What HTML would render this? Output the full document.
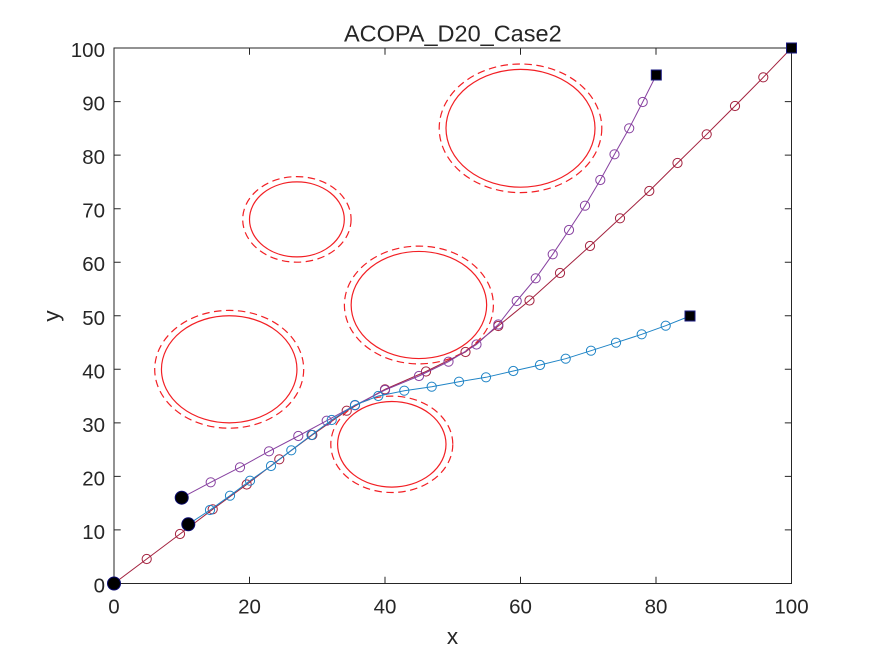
<!DOCTYPE html>
<html>
<head>
<meta charset="utf-8">
<style>
  html,body{margin:0;padding:0;background:#fff;}
  svg{display:block;}
  text{font-family:"Liberation Sans", Arial, sans-serif; fill:#262626;}
</style>
</head>
<body>
<svg width="875" height="656" viewBox="0 0 875 656" xmlns="http://www.w3.org/2000/svg">
  <rect x="0" y="0" width="875" height="656" fill="#ffffff"/>

  <!-- Obstacles -->
  <g fill="none" stroke="#f21f24" stroke-width="1.2">
    <ellipse cx="520.5" cy="128.3" rx="74.5" ry="58.9"/>
    <ellipse cx="296.9" cy="219.4" rx="47.4" ry="37.5"/>
    <ellipse cx="418.9" cy="305.0" rx="67.75" ry="53.55"/>
    <ellipse cx="229.2" cy="369.3" rx="67.75" ry="53.55"/>
    <ellipse cx="391.8" cy="444.3" rx="54.2" ry="42.8"/>
  </g>
  <g fill="none" stroke="#f21f24" stroke-width="1.2" stroke-dasharray="7.5 4.5">
    <ellipse cx="520.5" cy="128.3" rx="81.3" ry="64.3"/>
    <ellipse cx="296.9" cy="219.4" rx="54.2" ry="42.8"/>
    <ellipse cx="418.9" cy="305.0" rx="74.5" ry="58.9"/>
    <ellipse cx="229.2" cy="369.3" rx="74.5" ry="58.9"/>
    <ellipse cx="391.8" cy="444.3" rx="61" ry="48.2"/>
  </g>

  <!-- Axes box -->
  <rect x="114" y="48" width="677.5" height="535.5" fill="none" stroke="#262626" stroke-width="1"/>
  <!-- ticks -->
  <g stroke="#262626" stroke-width="1">
    <!-- x ticks bottom/top -->
    <path d="M249.5 583.5v-6.7M385 583.5v-6.7M520.5 583.5v-6.7M656 583.5v-6.7
             M249.5 48v6.7M385 48v6.7M520.5 48v6.7M656 48v6.7"/>
    <!-- y ticks left/right -->
    <path d="M114 529.9h6.7M114 476.4h6.7M114 422.9h6.7M114 369.3h6.7M114 315.8h6.7M114 262.2h6.7M114 208.7h6.7M114 155.1h6.7M114 101.6h6.7
             M791.5 529.9h-6.7M791.5 476.4h-6.7M791.5 422.9h-6.7M791.5 369.3h-6.7M791.5 315.8h-6.7M791.5 262.2h-6.7M791.5 208.7h-6.7M791.5 155.1h-6.7M791.5 101.6h-6.7"/>
  </g>

  <!-- Tick labels -->
  <g font-size="20.5" text-anchor="middle">
    <text x="114" y="613.3">0</text>
    <text x="249.5" y="613.3">20</text>
    <text x="385" y="613.3">40</text>
    <text x="520.5" y="613.3">60</text>
    <text x="656" y="613.3">80</text>
    <text x="791.5" y="613.3">100</text>
  </g>
  <g font-size="20.5" text-anchor="end">
    <text x="105" y="592.5">0</text>
    <text x="105" y="538.9">10</text>
    <text x="105" y="485.4">20</text>
    <text x="105" y="431.9">30</text>
    <text x="105" y="378.3">40</text>
    <text x="105" y="324.8">50</text>
    <text x="105" y="271.2">60</text>
    <text x="105" y="217.7">70</text>
    <text x="105" y="164.1">80</text>
    <text x="105" y="110.6">90</text>
    <text x="105" y="57">100</text>
  </g>

  <!-- Title and axis labels -->
  <text x="452.8" y="41.7" font-size="23.5" text-anchor="middle">ACOPA_D20_Case2</text>
  <text x="452.5" y="644" font-size="22.5" text-anchor="middle">x</text>
  <text transform="translate(59,316) rotate(-90)" font-size="22.5" text-anchor="middle">y</text>

  <!-- Path A (maroon) -->
  <polyline fill="none" stroke="#a3223f" stroke-width="1"
    points="114,583.5 146.7,559 180,534 212.7,509.3 246.7,484.5 279.3,459.3 312.3,435 346.7,410.7 385,389.3 426,371.5 465.5,352 498.3,326 529.5,300.5 560,273 590,246 620,218.3 649.3,191 677.5,163 706.7,134.3 735,106 763.3,77.3 791.5,48"/>
  <g fill="none" stroke="#a3223f" stroke-width="1">
    <circle cx="146.7" cy="559" r="4.6"/><circle cx="180" cy="534" r="4.6"/>
    <circle cx="212.7" cy="509.3" r="4.6"/><circle cx="246.7" cy="484.5" r="4.6"/>
    <circle cx="279.3" cy="459.3" r="4.6"/><circle cx="312.3" cy="435" r="4.6"/>
    <circle cx="346.7" cy="410.7" r="4.6"/><circle cx="385" cy="389.3" r="4.6"/>
    <circle cx="426" cy="371.5" r="4.6"/><circle cx="465.5" cy="352" r="4.6"/>
    <circle cx="498.3" cy="326" r="4.6"/><circle cx="529.5" cy="300.5" r="4.6"/>
    <circle cx="560" cy="273" r="4.6"/><circle cx="590" cy="246" r="4.6"/>
    <circle cx="620" cy="218.3" r="4.6"/><circle cx="649.3" cy="191" r="4.6"/>
    <circle cx="677.5" cy="163" r="4.6"/><circle cx="706.7" cy="134.3" r="4.6"/>
    <circle cx="735" cy="106" r="4.6"/><circle cx="763.3" cy="77.3" r="4.6"/>
  </g>

  <!-- Path B (purple) -->
  <polyline fill="none" stroke="#8741a0" stroke-width="1"
    points="181.7,497.7 210.7,482.3 240,467.3 269,451.3 298.3,436 326.7,420.7 355,405.3 385,390 419,376 448.5,361.7 476.5,344.5 498.3,324.5 516.7,301 535.7,278.3 552.7,254.3 569,230 585,205.7 600.3,180 614.5,154.3 629.2,128.3 642.7,102 656.3,75"/>
  <g fill="none" stroke="#8741a0" stroke-width="1">
    <circle cx="210.7" cy="482.3" r="4.6"/><circle cx="240" cy="467.3" r="4.6"/>
    <circle cx="269" cy="451.3" r="4.6"/><circle cx="298.3" cy="436" r="4.6"/>
    <circle cx="326.7" cy="420.7" r="4.6"/><circle cx="355" cy="405.3" r="4.6"/>
    <circle cx="385" cy="390" r="4.6"/><circle cx="419" cy="376" r="4.6"/>
    <circle cx="448.5" cy="361.7" r="4.6"/><circle cx="476.5" cy="344.5" r="4.6"/>
    <circle cx="498.3" cy="324.5" r="4.6"/><circle cx="516.7" cy="301" r="4.6"/>
    <circle cx="535.7" cy="278.3" r="4.6"/><circle cx="552.7" cy="254.3" r="4.6"/>
    <circle cx="569" cy="230" r="4.6"/><circle cx="585" cy="205.7" r="4.6"/>
    <circle cx="600.3" cy="180" r="4.6"/><circle cx="614.5" cy="154.3" r="4.6"/>
    <circle cx="629.2" cy="128.3" r="4.6"/><circle cx="642.7" cy="102" r="4.6"/>
  </g>

  <!-- Path C (blue) -->
  <polyline fill="none" stroke="#1f84c6" stroke-width="1"
    points="188.3,524.3 210,510 230,495.7 250,480.7 271,466 291.3,450.3 311.5,435 331.7,420 355,405 378.3,396 404.3,390.7 431.7,386.7 459,381.7 486,377.3 513.3,371 540,365 565.7,358.7 591,350.7 616,342.7 641.7,334.3 665.7,325.7 690,316"/>
  <g fill="none" stroke="#1f84c6" stroke-width="1">
    <circle cx="210" cy="510" r="4.6"/><circle cx="230" cy="495.7" r="4.6"/>
    <circle cx="250" cy="480.7" r="4.6"/><circle cx="271" cy="466" r="4.6"/>
    <circle cx="291.3" cy="450.3" r="4.6"/><circle cx="311.5" cy="435" r="4.6"/>
    <circle cx="331.7" cy="420" r="4.6"/><circle cx="355" cy="405" r="4.6"/>
    <circle cx="378.3" cy="396" r="4.6"/><circle cx="404.3" cy="390.7" r="4.6"/>
    <circle cx="431.7" cy="386.7" r="4.6"/><circle cx="459" cy="381.7" r="4.6"/>
    <circle cx="486" cy="377.3" r="4.6"/><circle cx="513.3" cy="371" r="4.6"/>
    <circle cx="540" cy="365" r="4.6"/><circle cx="565.7" cy="358.7" r="4.6"/>
    <circle cx="591" cy="350.7" r="4.6"/><circle cx="616" cy="342.7" r="4.6"/>
    <circle cx="641.7" cy="334.3" r="4.6"/><circle cx="665.7" cy="325.7" r="4.6"/>
  </g>

  <!-- Start markers -->
  <g fill="#000000" stroke="#0a0a6e" stroke-width="1">
    <circle cx="114" cy="583.5" r="6.5"/>
    <circle cx="181.7" cy="497.7" r="6.5"/>
    <circle cx="188.3" cy="524.3" r="6.5"/>
  </g>
  <!-- End markers -->
  <g fill="#000000" stroke="#1a1a80" stroke-width="1">
    <rect x="786.5" y="43" width="10" height="10"/>
    <rect x="651.3" y="70" width="10" height="10"/>
    <rect x="685" y="311" width="10" height="10"/>
  </g>
</svg>
</body>
</html>
